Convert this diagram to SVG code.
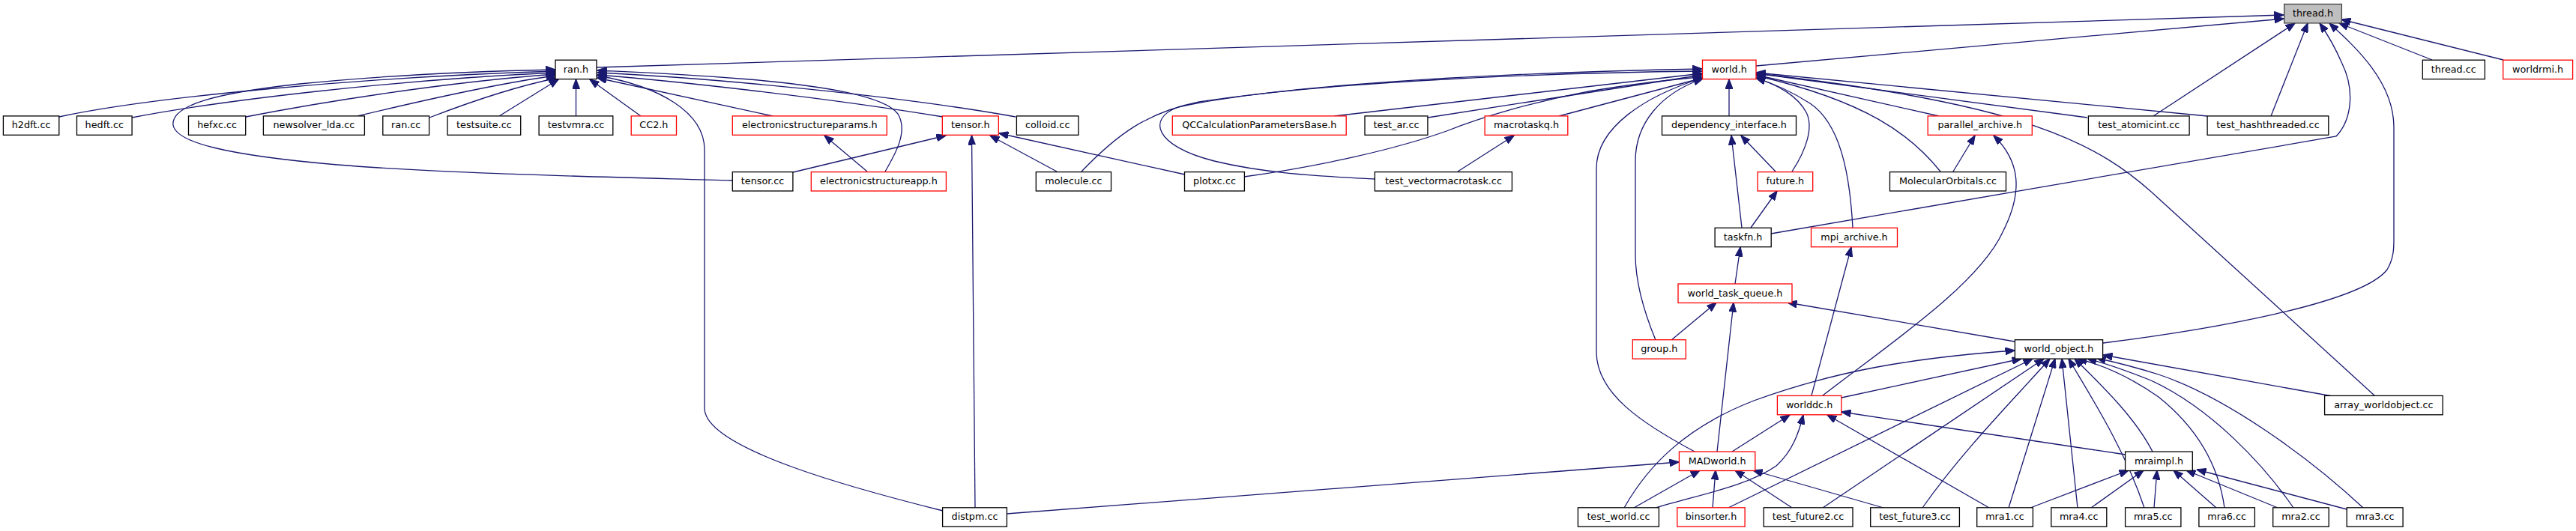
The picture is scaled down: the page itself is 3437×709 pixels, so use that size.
<svg xmlns="http://www.w3.org/2000/svg" width="3437" height="709" viewBox="0 0 3437 709">
<style>
.n rect{fill:#fff;stroke:#000;stroke-width:1.3}
.r rect{fill:#fff;stroke:#ff0000;stroke-width:1.3}
.g rect{fill:#bfbfbf;stroke:#404040;stroke-width:1.3}
text{font-family:"DejaVu Sans","Liberation Sans",sans-serif;font-size:12.75px;text-anchor:middle;fill:#000}
#edges path{fill:none;stroke:#191970;stroke-width:1.3;marker-end:url(#a)}
</style>
<defs>
<marker id="a" markerUnits="userSpaceOnUse" markerWidth="13" markerHeight="10" viewBox="0 0 13 10" refX="12.5" refY="5" orient="auto"><path d="M0,0L13,5L0,10z" fill="#191970" stroke="#191970" stroke-width="1"/></marker>
</defs>
<rect width="3437" height="709" fill="#fff"/>
<g id="edges">
<path d="M796,90 L3047,20"/>
<path d="M2343,88 L3047,25"/>
<path d="M2873,155 L3062,31"/>
<path d="M3030,155 L3079,31"/>
<path d="M2363,312 L3117,182 C3138,160 3142,120 3125,85 C3115,62 3105,45 3095,31"/>
<path d="M2806,458 C2950,440 3150,405 3185,360 C3194,345 3194,330 3194,320 L3194,170 C3194,110 3145,65 3108,31"/>
<path d="M3245,80 L3121,31"/>
<path d="M3340,80 L3124,26"/>
<path d="M1780,155 L2271,98"/>
<path d="M1905,157 L2271,100"/>
<path d="M2080,155 L2272,104"/>
<path d="M1443,229 C1490,180 1530,150 1600,136 C1780,108 2080,97 2271,95"/>
<path d="M1834,239 C1760,235 1690,232 1620,215 C1540,195 1530,158 1572,143 C1720,110 2050,96 2271,92"/>
<path d="M1660,236 C1760,222 1860,200 1930,175 C1980,155 2050,135 2120,122 C2180,112 2230,106 2271,103"/>
<path d="M2209,454 C2195,420 2182,380 2182,340 L2182,215 C2182,165 2215,125 2272,105"/>
<path d="M2261,603 C2190,565 2130,525 2130,470 L2130,225 C2130,170 2195,128 2272,104"/>
<path d="M2307,155 L2307,106"/>
<path d="M2391,229 C2410,200 2420,170 2410,150 C2398,128 2375,115 2343,104"/>
<path d="M2472,304 C2468,230 2455,165 2415,138 C2390,122 2368,112 2343,104"/>
<path d="M2589,229 C2550,180 2490,135 2343,101"/>
<path d="M2587,155 L2343,100"/>
<path d="M2785,157 L2343,98"/>
<path d="M2945,155 L2343,97"/>
<path d="M3168,528 L2880,265 C2800,190 2700,138 2343,98"/>
<path d="M79,156 C200,130 480,103 741,95"/>
<path d="M176,157 C290,135 520,107 741,97"/>
<path d="M328,156 C420,138 590,110 741,99"/>
<path d="M477,155 C560,135 660,112 741,101"/>
<path d="M573,157 C630,135 690,115 744,104"/>
<path d="M977,241 C800,236 600,232 450,220 C300,207 235,190 231,167 C228,140 290,124 400,112 C520,100 640,95 741,93"/>
<path d="M666,155 L745,106"/>
<path d="M768.5,155 L768.5,106"/>
<path d="M855,155 L787,106"/>
<path d="M1031,155 L797,104"/>
<path d="M1258,156 C1100,130 900,108 797,100"/>
<path d="M1355,156 C1200,128 950,104 797,97"/>
<path d="M1181,229 C1195,205 1212,175 1198,152 C1180,128 1100,115 1000,106 C900,98 840,96 797,94"/>
<path d="M1258,682 C1150,655 940,600 940,545 L940,200 C940,150 880,115 797,101"/>
<path d="M1058,230 L1262,181"/>
<path d="M1410,229 L1321,181"/>
<path d="M1581,233 L1333,178"/>
<path d="M1301,678 L1296.5,181"/>
<path d="M1157,229 L1100,181"/>
<path d="M1945,229 L2020,181"/>
<path d="M2324,304 L2310,181"/>
<path d="M2369,229 L2323,181"/>
<path d="M2336,304 L2371,255"/>
<path d="M2606,229 L2635,181"/>
<path d="M2432,528 C2520,460 2640,380 2672,310 C2700,255 2695,215 2660,181"/>
<path d="M2417,528 L2470,330"/>
<path d="M2315,379 L2322,330"/>
<path d="M2230,454 L2290,404"/>
<path d="M2291,603 L2313,404"/>
<path d="M2688,456 L2385,404"/>
<path d="M2457,531 L2697,479"/>
<path d="M2167,678 C2200,620 2250,570 2340,535 C2450,495 2550,478 2688,468"/>
<path d="M2306,678 L2712,479"/>
<path d="M2432,678 L2727,479"/>
<path d="M2565,678 C2620,600 2690,530 2735,479"/>
<path d="M2680,678 L2742,479"/>
<path d="M2772,678 L2751,479"/>
<path d="M2861,678 C2835,600 2790,530 2760,479"/>
<path d="M2968,678 C2960,620 2930,570 2880,530 C2840,502 2805,487 2772,479"/>
<path d="M3060,678 C3020,620 2950,545 2870,508 C2830,492 2805,484 2785,479"/>
<path d="M3153,678 C3080,610 2970,530 2880,500 C2845,489 2820,483 2797,478"/>
<path d="M2872,603 C2850,560 2810,520 2768,479"/>
<path d="M3112,529 L2806,474"/>
<path d="M2311,603 L2388,554"/>
<path d="M2209,678 C2260,662 2330,650 2370,622 C2392,602 2400,578 2406,554"/>
<path d="M2654,678 L2438,554"/>
<path d="M2836,607 L2457,550"/>
<path d="M1343,686 L2240,617"/>
<path d="M2180,678 L2268,628"/>
<path d="M2285,678 L2289,628"/>
<path d="M2391,678 L2315,628"/>
<path d="M2513,678 L2339,628"/>
<path d="M2709,678 L2840,628"/>
<path d="M2790,678 L2860,628"/>
<path d="M2874,678 L2878,628"/>
<path d="M2957,678 L2900,628"/>
<path d="M3039,678 L2917,628"/>
<path d="M3131,680 L2931,627"/>
</g>
<g id="thread_h" class="g"><rect x="3047.7" y="5.5" width="76.7" height="25.4"/><text x="3086" y="22">thread.h</text></g>
<g id="ran_h" class="n"><rect x="741" y="80.2" width="55" height="25.4"/><text x="768.5" y="96.7">ran.h</text></g>
<g id="world_h" class="r"><rect x="2271.5" y="80.2" width="71.5" height="25.4"/><text x="2307.2" y="96.7">world.h</text></g>
<g id="thread_cc" class="n"><rect x="3232.3" y="80.2" width="83.1" height="25.4"/><text x="3273.8" y="96.7">thread.cc</text></g>
<g id="worldrmi_h" class="r"><rect x="3339.7" y="80.2" width="92.9" height="25.4"/><text x="3386.1" y="96.7">worldrmi.h</text></g>
<g id="h2dft_cc" class="n"><rect x="4.4" y="154.9" width="74.4" height="25.4"/><text x="41.6" y="171.4">h2dft.cc</text></g>
<g id="hedft_cc" class="n"><rect x="102.5" y="154.9" width="73.6" height="25.4"/><text x="139.3" y="171.4">hedft.cc</text></g>
<g id="hefxc_cc" class="n"><rect x="251.5" y="154.9" width="76.2" height="25.4"/><text x="289.6" y="171.4">hefxc.cc</text></g>
<g id="newsolver_lda_cc" class="n"><rect x="351.4" y="154.9" width="135" height="25.4"/><text x="418.9" y="171.4">newsolver_lda.cc</text></g>
<g id="ran_cc" class="n"><rect x="510.8" y="154.9" width="61.8" height="25.4"/><text x="541.7" y="171.4">ran.cc</text></g>
<g id="testsuite_cc" class="n"><rect x="597" y="154.9" width="97.7" height="25.4"/><text x="645.9" y="171.4">testsuite.cc</text></g>
<g id="testvmra_cc" class="n"><rect x="719.1" y="154.9" width="98.7" height="25.4"/><text x="768.5" y="171.4">testvmra.cc</text></g>
<g id="CC2_h" class="r"><rect x="842.2" y="154.9" width="60.3" height="25.4"/><text x="872.4" y="171.4">CC2.h</text></g>
<g id="electronicstructureparams_h" class="r"><rect x="977.3" y="154.9" width="206" height="25.4"/><text x="1080.3" y="171.4">electronicstructureparams.h</text></g>
<g id="tensor_h" class="r"><rect x="1257.3" y="154.9" width="75" height="25.4"/><text x="1294.8" y="171.4">tensor.h</text></g>
<g id="colloid_cc" class="n"><rect x="1356.4" y="154.9" width="82.5" height="25.4"/><text x="1397.7" y="171.4">colloid.cc</text></g>
<g id="QCCalculationParametersBase_h" class="r"><rect x="1564.3" y="154.9" width="231.9" height="25.4"/><text x="1680.3" y="171.4">QCCalculationParametersBase.h</text></g>
<g id="test_ar_cc" class="n"><rect x="1821" y="154.9" width="83.9" height="25.4"/><text x="1863" y="171.4">test_ar.cc</text></g>
<g id="macrotaskq_h" class="r"><rect x="1981.1" y="154.9" width="110.7" height="25.4"/><text x="2036.5" y="171.4">macrotaskq.h</text></g>
<g id="dependency_interface_h" class="n"><rect x="2217.5" y="154.9" width="179" height="25.4"/><text x="2307" y="171.4">dependency_interface.h</text></g>
<g id="parallel_archive_h" class="r"><rect x="2572.2" y="154.9" width="139.1" height="25.4"/><text x="2641.8" y="171.4">parallel_archive.h</text></g>
<g id="test_atomicint_cc" class="n"><rect x="2786.4" y="154.9" width="134.7" height="25.4"/><text x="2853.8" y="171.4">test_atomicint.cc</text></g>
<g id="test_hashthreaded_cc" class="n"><rect x="2945.1" y="154.9" width="161.7" height="25.4"/><text x="3026" y="171.4">test_hashthreaded.cc</text></g>
<g id="tensor_cc" class="n"><rect x="977.3" y="229.6" width="80.6" height="25.4"/><text x="1017.6" y="246.1">tensor.cc</text></g>
<g id="electronicstructureapp_h" class="r"><rect x="1082.3" y="229.6" width="180.1" height="25.4"/><text x="1172.4" y="246.1">electronicstructureapp.h</text></g>
<g id="molecule_cc" class="n"><rect x="1382.3" y="229.6" width="100.2" height="25.4"/><text x="1432.4" y="246.1">molecule.cc</text></g>
<g id="plotxc_cc" class="n"><rect x="1580.5" y="229.6" width="79.9" height="25.4"/><text x="1620.5" y="246.1">plotxc.cc</text></g>
<g id="test_vectormacrotask_cc" class="n"><rect x="1834.3" y="229.6" width="183.1" height="25.4"/><text x="1925.9" y="246.1">test_vectormacrotask.cc</text></g>
<g id="future_h" class="r"><rect x="2345.1" y="229.6" width="73.6" height="25.4"/><text x="2381.9" y="246.1">future.h</text></g>
<g id="MolecularOrbitals_cc" class="n"><rect x="2521.5" y="229.6" width="155" height="25.4"/><text x="2599" y="246.1">MolecularOrbitals.cc</text></g>
<g id="taskfn_h" class="n"><rect x="2288.1" y="304.3" width="75.1" height="25.4"/><text x="2325.6" y="320.8">taskfn.h</text></g>
<g id="mpi_archive_h" class="r"><rect x="2416.5" y="304.3" width="115" height="25.4"/><text x="2474" y="320.8">mpi_archive.h</text></g>
<g id="world_task_queue_h" class="r"><rect x="2239" y="379" width="152" height="25.4"/><text x="2315" y="395.5">world_task_queue.h</text></g>
<g id="group_h" class="r"><rect x="2178.3" y="453.7" width="71" height="25.4"/><text x="2213.8" y="470.2">group.h</text></g>
<g id="world_object_h" class="n"><rect x="2688.4" y="453.7" width="117.2" height="25.4"/><text x="2747" y="470.2">world_object.h</text></g>
<g id="worlddc_h" class="r"><rect x="2371.4" y="528.4" width="85.4" height="25.4"/><text x="2414.1" y="544.9">worlddc.h</text></g>
<g id="array_worldobject_cc" class="n"><rect x="3101.6" y="528.4" width="157.6" height="25.4"/><text x="3180.4" y="544.9">array_worldobject.cc</text></g>
<g id="MADworld_h" class="r"><rect x="2240.4" y="603.1" width="101.4" height="25.4"/><text x="2291.1" y="619.6">MADworld.h</text></g>
<g id="mraimpl_h" class="n"><rect x="2835.6" y="603.1" width="89.7" height="25.4"/><text x="2880.5" y="619.6">mraimpl.h</text></g>
<g id="distpm_cc" class="n"><rect x="1257.6" y="677.8" width="85.8" height="25.4"/><text x="1300.5" y="694.3">distpm.cc</text></g>
<g id="test_world_cc" class="n"><rect x="2105.4" y="677.8" width="108" height="25.4"/><text x="2159.4" y="694.3">test_world.cc</text></g>
<g id="binsorter_h" class="r"><rect x="2237.8" y="677.8" width="90.3" height="25.4"/><text x="2283" y="694.3">binsorter.h</text></g>
<g id="test_future2_cc" class="n"><rect x="2353.2" y="677.8" width="118.8" height="25.4"/><text x="2412.6" y="694.3">test_future2.cc</text></g>
<g id="test_future3_cc" class="n"><rect x="2495.7" y="677.8" width="118.7" height="25.4"/><text x="2555" y="694.3">test_future3.cc</text></g>
<g id="mra1_cc" class="n"><rect x="2637.7" y="677.8" width="74.7" height="25.4"/><text x="2675" y="694.3">mra1.cc</text></g>
<g id="mra4_cc" class="n"><rect x="2736.8" y="677.8" width="74" height="25.4"/><text x="2773.8" y="694.3">mra4.cc</text></g>
<g id="mra5_cc" class="n"><rect x="2835.6" y="677.8" width="74.3" height="25.4"/><text x="2872.8" y="694.3">mra5.cc</text></g>
<g id="mra6_cc" class="n"><rect x="2933.9" y="677.8" width="74.5" height="25.4"/><text x="2971.1" y="694.3">mra6.cc</text></g>
<g id="mra2_cc" class="n"><rect x="3032.7" y="677.8" width="74.5" height="25.4"/><text x="3070" y="694.3">mra2.cc</text></g>
<g id="mra3_cc" class="n"><rect x="3131.2" y="677.8" width="74.9" height="25.4"/><text x="3168.6" y="694.3">mra3.cc</text></g>
</svg>
